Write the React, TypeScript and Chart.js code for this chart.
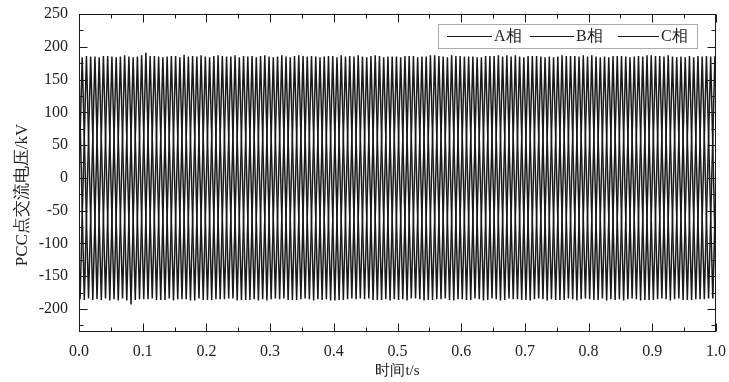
import React, { useEffect, useRef } from "react";
import { Chart, registerables } from "chart.js";

Chart.register(...registerables);

// ---- data ----
const FREQ_HZ = 50; // 50 cycles visible per phase over 1 s
const CYCLES = 50;
const PHASE_NAMES = ["A相", "B相", "C相"];
const PHASE_LAG = [0, 1 / 3, 2 / 3]; // lag of each phase, in periods (120° apart)
const START_END_VALUES = [0, -160, 160]; // kV at t = 0 and t = 1.0 s

const A_PEAK = [184, 185, 186, 185, 184, 191, 185, 186, 188, 185, 184, 186, 187, 185, 186, 184, 185, 187, 186, 185, 184, 186, 185, 187, 185, 184, 186, 185, 186, 187, 185, 184, 186, 185, 187, 186, 185, 184, 186, 185, 187, 185, 186, 184, 185, 186, 187, 185, 184, 186];
const A_TROUGH = [-184, -186, -185, -187, -185, -184, -186, -185, -187, -186, -185, -184, -186, -185, -187, -185, -186, -184, -185, -187, -186, -185, -184, -186, -185, -187, -185, -186, -184, -185, -186, -187, -185, -184, -186, -185, -187, -186, -185, -184, -186, -185, -187, -185, -186, -184, -185, -186, -185, -184];
const B_PEAK = [186, 184, 185, 187, 185, 186, 184, 186, 185, 187, 186, 185, 184, 186, 187, 185, 184, 186, 185, 186, 187, 185, 184, 186, 185, 186, 184, 187, 185, 186, 185, 184, 186, 187, 185, 186, 184, 185, 186, 187, 185, 184, 186, 185, 187, 186, 185, 184, 186, 185];
const B_TROUGH = [-185, -186, -184, -187, -193, -185, -186, -184, -185, -187, -186, -185, -184, -186, -187, -185, -184, -186, -185, -186, -187, -185, -184, -186, -185, -186, -184, -187, -185, -186, -185, -184, -186, -187, -185, -186, -184, -185, -186, -187, -185, -184, -186, -185, -187, -186, -185, -184, -186, -185];
const C_PEAK = [185, 186, 184, 185, 187, 186, 185, 184, 186, 185, 187, 185, 186, 184, 185, 187, 186, 185, 184, 186, 185, 187, 186, 184, 185, 186, 185, 187, 184, 186, 185, 186, 187, 185, 184, 186, 185, 187, 186, 185, 184, 186, 185, 186, 187, 185, 184, 186, 185, 186];
const C_TROUGH = [-186, -185, -187, -184, -186, -185, -186, -187, -185, -184, -186, -185, -187, -186, -185, -184, -186, -185, -187, -185, -186, -184, -185, -186, -187, -185, -184, -186, -185, -187, -186, -185, -184, -186, -185, -187, -185, -186, -184, -185, -186, -187, -185, -184, -186, -185, -187, -186, -185, -184];

const PEAKS = [A_PEAK, B_PEAK, C_PEAK];
const TROUGHS = [A_TROUGH, B_TROUGH, C_TROUGH];

const X_TICKS = [0, 0.1, 0.2, 0.3, 0.4, 0.5, 0.6, 0.7, 0.8, 0.9, 1.0];
const Y_TICKS = [-200, -150, -100, -50, 0, 50, 100, 150, 200, 250];
const X_MIN = 0;
const X_MAX = 1;
const Y_MIN = -235;
const Y_MAX = 250;
const X_TITLE = "时间t/s";
const Y_TITLE = "PCC点交流电压/kV";

const FONT = "'Liberation Serif', 'Times New Roman', serif";
const INK = "#1a1a1a";

function buildPhase(p: number) {
  const T = 1 / FREQ_HZ;
  const pts: { x: number; y: number }[] = [];
  pts.push({ x: X_MIN, y: START_END_VALUES[p] });
  const ev: { x: number; y: number }[] = [];
  for (let k = 0; k < CYCLES; k++) {
    const pk = (((0.25 + PHASE_LAG[p]) % 1) + k) * T;
    const tr = (((0.75 + PHASE_LAG[p]) % 1) + k) * T;
    ev.push({ x: pk, y: PEAKS[p][k] });
    ev.push({ x: tr, y: TROUGHS[p][k] });
  }
  ev.sort((a, b) => a.x - b.x);
  pts.push(...ev);
  pts.push({ x: X_MAX, y: START_END_VALUES[p] });
  return pts;
}

function midpoints(arr: number[], lo: number, hi: number) {
  const out: number[] = [];
  const step = arr[1] - arr[0];
  for (let i = 0; i < arr.length + 1; i++) {
    const v = arr[0] + (i - 1) * step + step / 2;
    if (v > lo && v < hi) out.push(v);
  }
  return out;
}

const framePlugin = {
  id: "frameTicks",
  afterDraw(chart: any) {
    const { ctx, chartArea, scales } = chart;
    const { left, right, top, bottom } = chartArea;
    const x = scales.x;
    const y = scales.y;
    ctx.save();
    ctx.strokeStyle = INK;
    ctx.lineWidth = 1;
    const L = Math.round(left) + 0.5;
    const R = Math.round(right) - 0.5;
    const Tp = Math.round(top) + 0.5;
    const B = Math.round(bottom) - 0.5;
    ctx.strokeRect(L, Tp, R - L, B - Tp);
    ctx.beginPath();
    const xMinor = midpoints(X_TICKS, X_MIN, X_MAX);
    const yMinor = midpoints(Y_TICKS, Y_MIN, Y_MAX);
    const xt = (v: number, len: number) => {
      const px = Math.round(x.getPixelForValue(v)) + 0.5;
      ctx.moveTo(px, B);
      ctx.lineTo(px, B - len);
      ctx.moveTo(px, Tp);
      ctx.lineTo(px, Tp + len);
    };
    const yt = (v: number, len: number) => {
      const py = Math.round(y.getPixelForValue(v)) + 0.5;
      ctx.moveTo(L, py);
      ctx.lineTo(L + len, py);
      ctx.moveTo(R, py);
      ctx.lineTo(R - len, py);
    };
    X_TICKS.forEach((v) => xt(v, 8));
    xMinor.forEach((v) => xt(v, 4));
    Y_TICKS.forEach((v) => yt(v, 8));
    yMinor.forEach((v) => yt(v, 4));
    ctx.stroke();

    // y axis title
    ctx.save();
    ctx.translate(23, 195);
    ctx.rotate(-Math.PI / 2);
    ctx.fillStyle = "#222";
    ctx.font = `17px ${FONT}`;
    ctx.textAlign = "center";
    ctx.textBaseline = "middle";
    ctx.fillText(Y_TITLE, 0, 0);
    ctx.restore();

    // legend box
    const bx = 438, by = 24, bw = 259, bh = 24;
    ctx.fillStyle = "#fff";
    ctx.fillRect(bx, by, bw, bh);
    ctx.setLineDash([1, 1]);
    ctx.strokeStyle = "#555";
    ctx.strokeRect(bx + 0.5, by + 0.5, bw, bh);
    ctx.setLineDash([]);
    const items = [
      { x0: 447, x1: 492, tx: 494 },
      { x0: 530, x1: 574, tx: 576 },
      { x0: 618, x1: 659, tx: 661 },
    ];
    ctx.font = `16px ${FONT}`;
    ctx.textBaseline = "middle";
    ctx.textAlign = "left";
    items.forEach((it, i) => {
      ctx.strokeStyle = INK;
      ctx.beginPath();
      ctx.moveTo(it.x0, 36.5);
      ctx.lineTo(it.x1, 36.5);
      ctx.stroke();
      ctx.fillStyle = "#222";
      ctx.fillText(PHASE_NAMES[i], it.tx, 37);
    });
    ctx.restore();
  },
};

export default function App() {
  const ref = useRef<HTMLCanvasElement | null>(null);
  useEffect(() => {
    document.body.style.margin = "0";
    const canvas = ref.current;
    if (!canvas) return;
    const chart = new Chart(canvas, {
      type: "line",
      data: {
        datasets: PHASE_NAMES.map((name, p) => ({
          label: name,
          data: buildPhase(p),
          borderColor: INK,
          borderWidth: 1.5,
          pointRadius: 0,
          tension: 0,
          fill: false,
        })),
      },
      options: {
        animation: false,
        responsive: false,
        devicePixelRatio: 1,
        parsing: false,
        normalized: true,
        layout: { padding: { top: 14, right: 13, left: 0, bottom: 0 } },
        plugins: { legend: { display: false }, tooltip: { enabled: false } },
        scales: {
          x: {
            type: "linear",
            min: X_MIN,
            max: X_MAX,
            afterBuildTicks: (s: any) => {
              s.ticks = X_TICKS.map((v) => ({ value: v }));
            },
            afterFit: (s: any) => {
              s.height = 50;
              s.paddingLeft = 0;
              s.paddingRight = 0;
            },
            grid: { display: false, drawTicks: false },
            border: { display: false },
            ticks: {
              padding: 10,
              maxRotation: 0,
              autoSkip: false,
              color: "#222",
              font: { family: FONT, size: 16 },
              callback: (v: any) => Number(v).toFixed(1),
            },
            title: {
              display: true,
              text: X_TITLE,
              color: "#222",
              font: { family: FONT, size: 15 },
              padding: { top: 0, bottom: 2 },
            },
          },
          y: {
            type: "linear",
            min: Y_MIN,
            max: Y_MAX,
            afterBuildTicks: (s: any) => {
              s.ticks = Y_TICKS.map((v) => ({ value: v }));
            },
            afterFit: (s: any) => {
              s.width = 79;
              s.paddingTop = 0;
              s.paddingBottom = 0;
            },
            grid: { display: false, drawTicks: false },
            border: { display: false },
            ticks: {
              padding: 11,
              autoSkip: false,
              color: "#222",
              font: { family: FONT, size: 16 },
            },
          },
        },
      },
      plugins: [framePlugin],
    } as any);
    return () => chart.destroy();
  }, []);
  return (
    <div style={{ width: 729, height: 382 }}>
      <canvas ref={ref} width={729} height={382} style={{ display: "block" }} />
    </div>
  );
}
